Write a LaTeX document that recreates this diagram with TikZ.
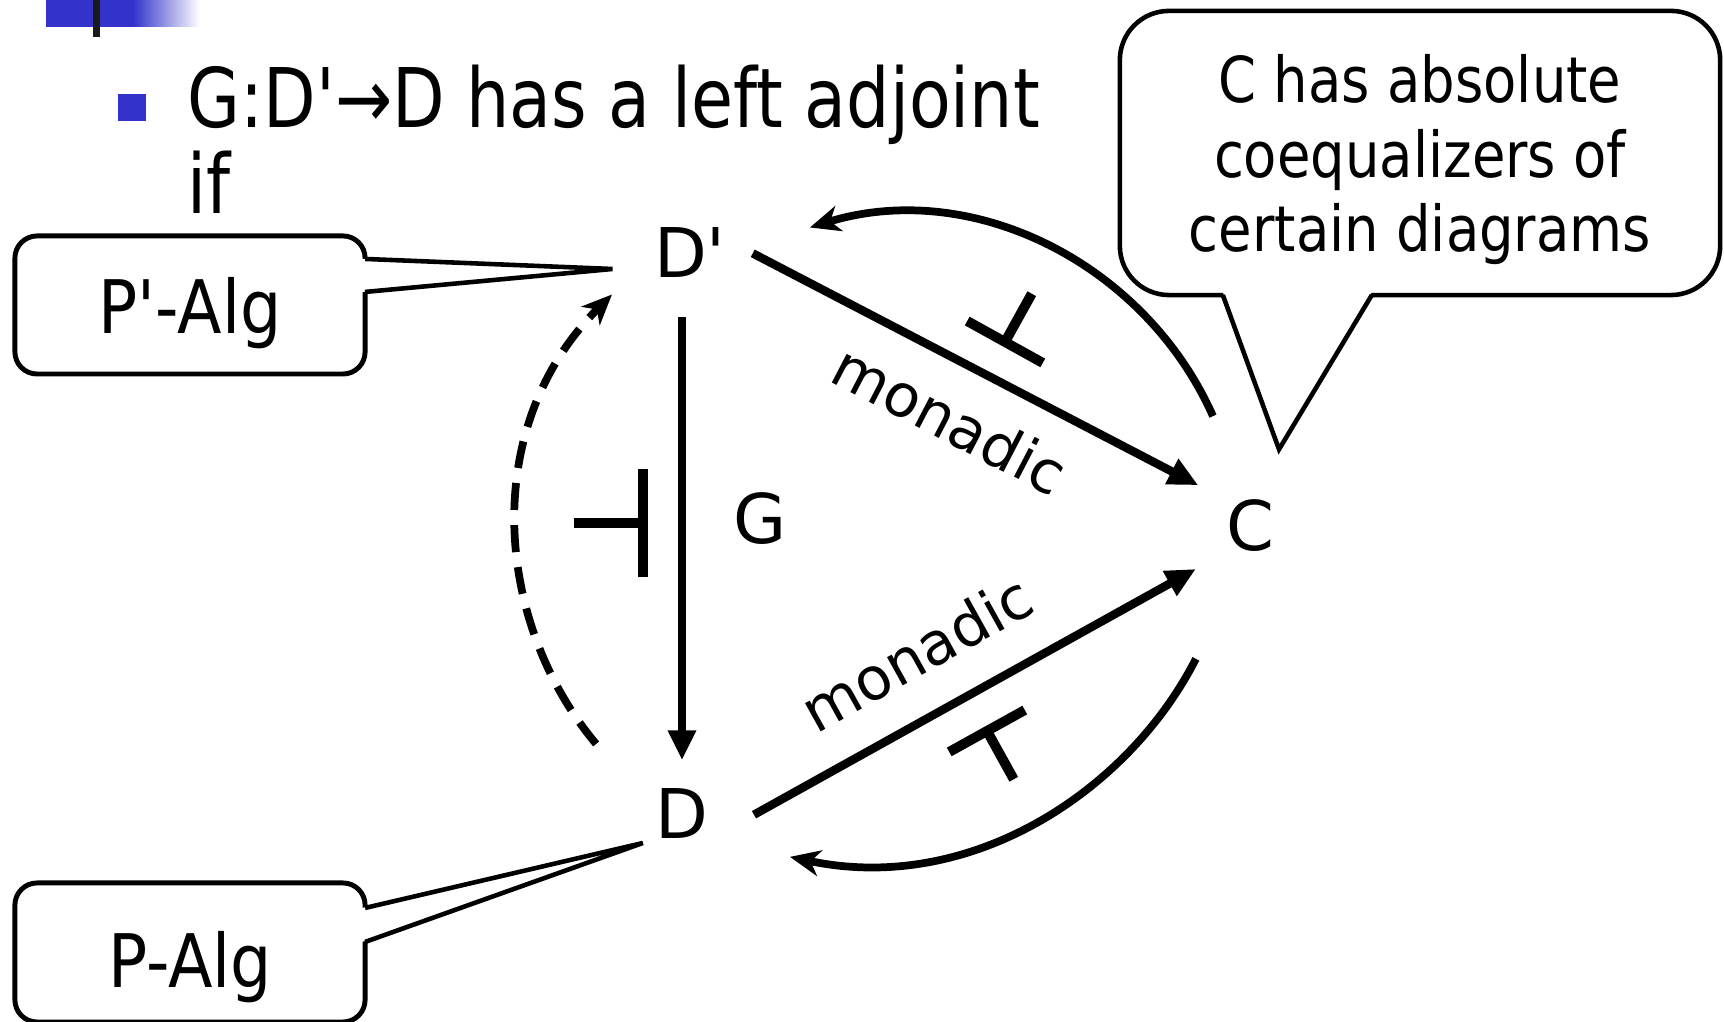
\documentclass[tikz,border=0pt]{standalone}
\usepackage{fontspec}
\setmainfont{DejaVu Sans}
\newfontfamily\objfont{DejaVu Sans}
\newfontfamily\narrowfont[FakeStretch=0.83]{DejaVu Sans}
\newfontfamily\boxfont[FakeStretch=0.88]{DejaVu Sans}
\newfontfamily\notefont[FakeStretch=0.86]{DejaVu Sans}
\usetikzlibrary{arrows.meta,positioning,calc}
\definecolor{bulletblue}{RGB}{51,51,204}

\begin{document}
\begin{tikzpicture}[x=0.01cm,y=0.01cm,
  obj/.style={inner sep=0pt,font=\objfont\fontsize{19.5}{23}\selectfont},
  lbl/.style={font=\objfont\fontsize{16.8}{20}\selectfont},
  tagbox/.style={draw,line width=1.4pt,rounded corners=6.3pt,minimum width=3.5cm,minimum height=1.38cm,inner sep=0pt,outer sep=0pt,text depth=0pt,font=\boxfont\fontsize{21}{25}\selectfont},
  notebox/.style={draw,line width=1.3pt,rounded corners=14pt,minimum width=6cm,minimum height=2.84cm,inner sep=0pt,outer sep=0pt,align=center,text depth=0pt,font=\notefont\fontsize{18}{21.3}\selectfont},
  ptr/.style={line width=1.3pt},
  arr/.style={-{Triangle[length=8.5pt,width=7.6pt]},line width=2.4pt},
  carr/.style={-{Stealth[length=8.6pt,width=7.4pt,inset=2.6pt]},line width=2.2pt},
  adjline/.style={line width=2.8pt},
  adj/.pic={\draw[adjline] (0,-54) -- (0,54) (0,0) -- (-69,0);}]
  \useasboundingbox (0,0) rectangle (1724,1022);
  % slide decoration
  \fill[bulletblue] (46,995) rectangle (133,1022);
  \shade[left color=bulletblue,right color=white] (133,995) rectangle (200,1022);
  \fill[black!90] (93,985) rectangle (100,1022);
  \node[fill=bulletblue,minimum size=0.27cm,inner sep=0pt] (bul) at (132,914) {};
  \node[anchor=north west,inner sep=0pt,align=left,font=\narrowfont\fontsize{23.4}{24.5}\selectfont] (head) at (187,958) {G:D'→D has a left adjoint\\if};
  % objects
  \node[obj] (Dp) at (690,769) {D'};
  \node[obj] (D) at (682,208) {D};
  \node[obj] (C) at (1250,496) {C};
  % tags
  \node[tagbox] (PpAlg) at (190,717) {P'-Alg};
  \node[tagbox,minimum height=1.39cm,text height=0.7cm] (PAlg) at (190,69.5) {P-Alg};
  \node[notebox] (abs) at (1420,869) {C has absolute\\coequalizers of\\certain diagrams};
  \coordinate (tipPp) at ($(Dp.west)+(-41,-16)$);
  \coordinate (tipP) at ($(D.west)+(-12,-29)$);
  \coordinate (tipC) at ($(C.north)+(29,50)$);
  \fill[white] ($(PpAlg.north east)+(-3,-23)$) -- (tipPp) -- ($(PpAlg.north east)+(-3,-56)$) -- cycle;
  \draw[ptr] ($(PpAlg.north east)+(0,-23)$) -- (tipPp) -- ($(PpAlg.north east)+(0,-56)$);
  \fill[white] ($(PAlg.north east)+(-3,-25)$) -- (tipP) -- ($(PAlg.north east)+(-3,-59)$) -- cycle;
  \draw[ptr] ($(PAlg.north east)+(0,-25)$) -- (tipP) -- ($(PAlg.north east)+(0,-59)$);
  \fill[white] ($(abs.south west)+(103,3)$) -- (tipC) -- ($(abs.south west)+(252,3)$) -- cycle;
  \draw[ptr] ($(abs.south west)+(103,0)$) -- (tipC) -- ($(abs.south west)+(252,0)$);
  % functors
  \draw[arr,shorten <=11pt,shorten >=8pt] (Dp.south -| D) -- (D.north)
    node[obj,pos=0.47,right=13.5pt] (Glbl) {G};
  \draw[arr,shorten <=8.4pt,shorten >=8.7pt] (Dp.20) -- (C.north west)
    node[lbl,midway,sloped,below,inner sep=8.3pt] (mon1) {monadic};
  \draw[arr,shorten <=14.6pt,shorten >=9.6pt] (D.south east) -- (C.south west)
    node[lbl,pos=0.46,sloped,above,inner sep=10pt] (mon2) {monadic};
  \draw[carr,shorten <=25.9pt,shorten >=24.8pt] (C.north) to[out=114,in=17,looseness=1.14] (Dp.east);
  \draw[carr,shorten <=33.9pt,shorten >=23.5pt] (C.south) to[out=243,in=-12,looseness=1.12] (D.south east);
  \draw[carr,dash pattern=on 7.7pt off 4.3pt,shorten <=26pt,shorten >=16.7pt] (D.west) to[out=130,in=225,looseness=1.13] (Dp.west);
  % adjunction marks
  \pic at (643,499) {adj};
  \pic[rotate=-119,scale=0.8] at (1005,680) {adj};
  \pic[rotate=119,scale=0.8] at (987,291) {adj};
\end{tikzpicture}
\end{document}
